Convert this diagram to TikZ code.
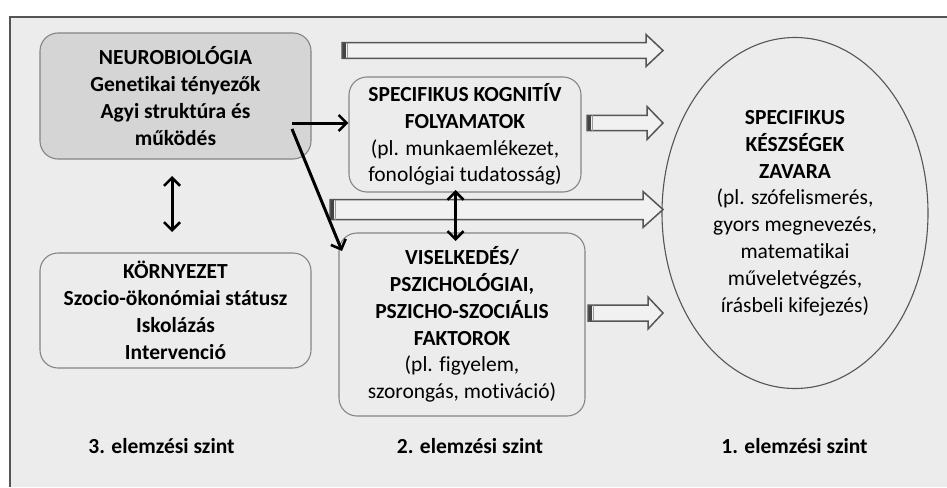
\documentclass[tikz,border=0pt]{standalone}
\usepackage{fontspec}
\setmainfont{Carlito}[Ligatures={NoCommon}]
\usetikzlibrary{arrows.meta,shapes.geometric}
\definecolor{bgc}{HTML}{ECECEC}
\definecolor{boxline}{HTML}{858585}
\definecolor{neurofill}{HTML}{D5D5D5}
\definecolor{barrline}{HTML}{555555}
\definecolor{barrfill}{HTML}{F1F1F1}
\newcommand\blockarrow[6]{% tailx, tipx, y, shafthalf, headhalf, headbasex
  \fill[barrfill] (#1,#3-#4) -- (#6,#3-#4) -- (#6,#3-#5) -- (#2,#3) -- (#6,#3+#5) -- (#6,#3+#4) -- (#1,#3+#4) -- cycle;
  \fill[barrline!80!black] (#1,#3-#4) rectangle (#1+4,#3+#4);
  \draw[barrline,line width=1.5pt,line join=miter] (#1,#3-#4) -- (#6,#3-#4) -- (#6,#3-#5) -- (#2,#3) -- (#6,#3+#5) -- (#6,#3+#4) -- (#1,#3+#4) -- cycle;
  \draw[barrline!60,line width=0.8pt] (#1+5.5,#3-#4) -- (#1+5.5,#3+#4);
}
\tikzset{
  rbox/.style={draw=boxline, line width=1.1pt, rounded corners=18pt, align=center, inner sep=0pt, fill=bgc},
  txt/.style={font=\fontsize{21.5}{26.8}\selectfont\bfseries},
  tipbarb/.tip={Straight Barb[length=8pt,width=16pt,line width=2.6pt]},
  thinarr/.style={line width=3pt, -tipbarb},
  dblarr/.style={line width=3pt, tipbarb-tipbarb},
  lvl/.style={font=\fontsize{21.5}{26.8}\selectfont\bfseries}
}
\begin{document}
\begin{tikzpicture}[x=1pt,y=-1pt]
\useasboundingbox (0,0) rectangle (947,487);
\fill[white] (0,0) rectangle (947,487);
\fill[bgc] (10,17) rectangle (947,487);
\draw[barrline,line width=1.2pt] (10,487) -- (10,17) -- (947,17);

% boxes
\node[rbox, fill=neurofill, minimum width=271pt, minimum height=126pt, txt] (neuro) at (175.5,96)
  {NEUROBIOLÓGIA\\Genetikai tényezők\\Agyi struktúra és\\működés};
\node[rbox, minimum width=271pt, minimum height=115pt, txt] (env) at (175.5,310.5)
  {KÖRNYEZET\\Szocio-ökonómiai státusz\\Iskolázás\\Intervenció};
\node[rbox, minimum width=232pt, minimum height=115pt, txt] (kog) at (465,134.5)
  {SPECIFIKUS KOGNITÍV\\FOLYAMATOK\\\mdseries(pl. munkaemlékezet,\\\mdseries fonológiai tudatosság)};
\node[rbox, minimum width=246pt, minimum height=183pt, txt] (vis) at (462,324.5)
  {VISELKEDÉS/\\PSZICHOLÓGIAI,\\PSZICHO-SZOCIÁLIS\\FAKTOROK\\\mdseries(pl. figyelem,\\\mdseries szorongás, motiváció)};
\node[draw=barrline, line width=1.1pt, ellipse, fill=bgc, minimum width=266pt, minimum height=351pt, inner sep=0pt, align=center, txt] (ell) at (795,213)
  {SPECIFIKUS\\KÉSZSÉGEK\\ZAVARA\\\mdseries(pl. szófelismerés,\\\mdseries gyors megnevezés,\\\mdseries matematikai\\\mdseries műveletvégzés,\\\mdseries írásbeli kifejezés)};

% block arrows
\blockarrow{342}{663}{50.5}{7.8}{16}{646}
\blockarrow{587}{663}{123}{7.7}{16.5}{647}
\blockarrow{330}{663}{209.5}{10}{18}{643}
\blockarrow{588}{663}{313}{8}{16}{648}

% thin arrows
\coordinate (n1) at (292,123);
\coordinate (n2) at (292,129);
\draw[thinarr] (n1) -- (kog.west |- n1);
\draw[thinarr] (n2) -- (342,251);
\coordinate (d1) at (172,176);
\coordinate (d2) at (172,232);
\draw[dblarr] (d1) -- (d2);
\coordinate (m1) at (455.5,190);
\coordinate (m2) at (455.5,241);
\draw[dblarr] (m1) -- (m2);

% level labels
\node[lvl] (l3) at (161.5,446) {3. elemzési szint};
\node[lvl] (l2) at (470,446) {2. elemzési szint};
\node[lvl] (l1) at (794.5,446) {1. elemzési szint};
\end{tikzpicture}
\end{document}
